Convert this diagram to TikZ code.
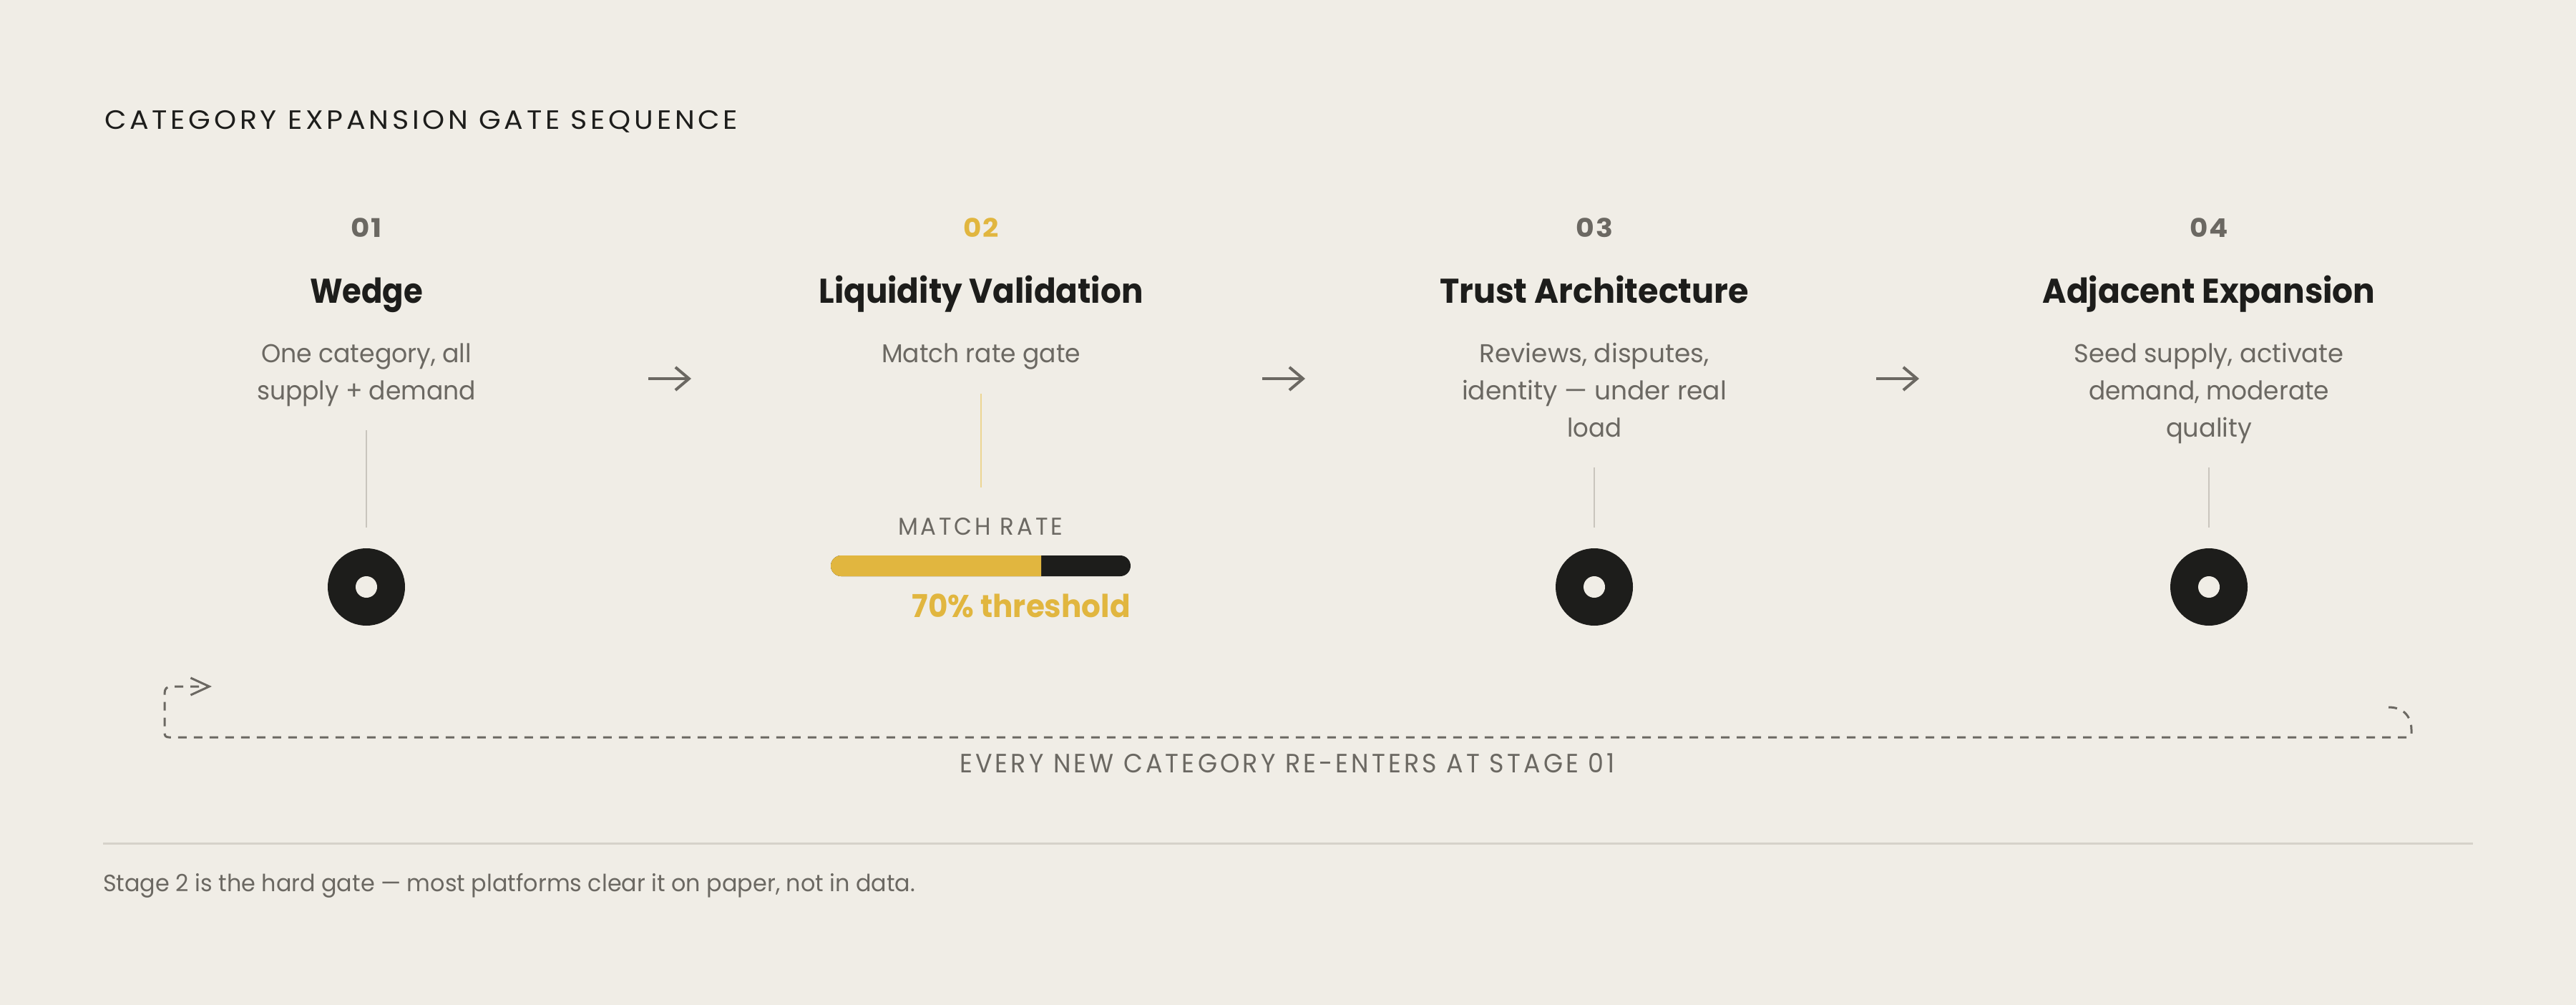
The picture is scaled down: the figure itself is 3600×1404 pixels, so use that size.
\documentclass[tikz,border=0pt]{standalone}
\usepackage{fontspec}
\usepackage{graphicx}
\setmainfont{Poppins}
\newfontfamily\poptr{Poppins}[LetterSpace=12]
\newfontfamily\popnum{Poppins}[LetterSpace=6]
\usetikzlibrary{arrows.meta}
\definecolor{bg}{HTML}{F0EDE6}
\definecolor{ink}{HTML}{1D1D1B}
\definecolor{mute}{HTML}{6B6862}
\definecolor{gold}{HTML}{E1B63F}
\definecolor{goldl}{HTML}{ECD592}
\definecolor{rulec}{HTML}{D6D2CA}
\definecolor{stem}{HTML}{C9C5BD}
\newlength\fitlen
\newcommand\fitto[2]{\settowidth\fitlen{#2}\pgfmathsetmacro\fitf{#1/\fitlen}\scalebox{\fitf}[1]{#2}}
\tikzset{
  eyebrow/.style={font=\poptr\fontsize{37}{44}\selectfont, text=ink, inner sep=0pt, anchor=base west},
  numtxt/.style={font=\popnum\bfseries\fontsize{36}{40}\selectfont, text=mute, inner sep=0pt, anchor=base},
  ttl/.style={font=\bfseries\fontsize{48}{56}\selectfont, text=ink, inner sep=0pt, anchor=base},
  desc/.style={font=\fontsize{36}{52}\selectfont, text=mute, inner sep=0pt, anchor=north, align=center},
  circ/.style={circle, fill=ink, minimum size=108pt, inner sep=0pt},
  hole/.style={circle, fill=bg, minimum size=30pt, inner sep=0pt},
  stemline/.style={draw=stem, line width=2pt},
  flow/.style={draw=mute, line width=4pt, -{Straight Barb[length=19pt,width=32pt]}},
  capsmute/.style={font=\poptr\fontsize{37}{44}\selectfont, text=mute, inner sep=0pt},
  loopline/.style={draw=mute, line width=3pt, dash pattern=on 12pt off 10pt, -{Straight Barb[length=26pt,width=24pt]}},
}
\begin{document}
\begin{tikzpicture}[x=1pt,y=-1pt]
\useasboundingbox (0,0) rectangle (3600,1404);
\fill[bg] (0,0) rectangle (3600,1404);

% eyebrow
\node[eyebrow] (eyebrow) at (146,181) {\fitto{885}{CATEGORY EXPANSION GATE SEQUENCE}};

% stage numbers
\node[numtxt] (n1) at (512,332) {\fitto{44}{01}};
\node[numtxt, text=gold] (n2) at (1371,332) {\fitto{50}{02}};
\node[numtxt] (n3) at (2228,332) {\fitto{52}{03}};
\node[numtxt] (n4) at (3087,332) {\fitto{54}{04}};

% stage titles
\node[ttl] (t1) at (512,423) {\fitto{158}{Wedge}};
\node[ttl] (t2) at (1371,423) {\fitto{453}{Liquidity Validation}};
\node[ttl] (t3) at (2228,423) {\fitto{432}{Trust Architecture}};
\node[ttl] (t4) at (3087,423) {\fitto{465}{Adjacent Expansion}};

% descriptions
\node[desc] (d1) at (512,466) {\rule{0pt}{40pt}\fitto{294}{One category, all}\\\fitto{306}{supply + demand}};
\node[desc] (d2) at (1371,466) {\rule{0pt}{40pt}\fitto{278}{Match rate gate}};
\node[desc] (d3) at (2228,466) {\rule{0pt}{40pt}\fitto{321}{Reviews, disputes,}\\\fitto{370}{identity — under real}\\\fitto{76}{load}};
\node[desc] (d4) at (3087,466) {\rule{0pt}{40pt}\fitto{377}{Seed supply, activate}\\\fitto{336}{demand, moderate}\\\fitto{120}{quality}};

% arrows between stages
\coordinate (a1s) at (906,529); \coordinate (a1e) at (966,529);
\coordinate (a2s) at (1764,529); \coordinate (a2e) at (1824,529);
\coordinate (a3s) at (2622,529); \coordinate (a3e) at (2682,529);
\draw[flow] (a1s) -- (a1e);
\draw[flow] (a2s) -- (a2e);
\draw[flow] (a3s) -- (a3e);

% stems
\coordinate (s1t) at (512,601); \coordinate (s1b) at (512,737);
\coordinate (s2t) at (1371,550); \coordinate (s2b) at (1371,681);
\coordinate (s3t) at (2228,653); \coordinate (s3b) at (2228,737);
\coordinate (s4t) at (3087,653); \coordinate (s4b) at (3087,737);
\draw[stemline] (s1t) -- (s1b);
\draw[stemline, draw=goldl] (s2t) -- (s2b);
\draw[stemline] (s3t) -- (s3b);
\draw[stemline] (s4t) -- (s4b);

% circles
\node[circ] (c1) at (512,820) {};
\node[hole] (h1) at (c1.center) {};
\node[circ] (c3) at (2228,820) {};
\node[hole] (h3) at (c3.center) {};
\node[circ] (c4) at (3087,820) {};
\node[hole] (h4) at (c4.center) {};

% match rate gauge
\node[capsmute, font=\poptr\fontsize{34}{40}\selectfont, anchor=base] (mr) at (1370,747) {\fitto{230}{MATCH RATE}};
\fill[ink, rounded corners=14.5pt] (1161,776) rectangle (1580,805);
\begin{scope}
\clip (1150,770) rectangle (1455,812);
\fill[gold, rounded corners=14.5pt] (1161,776) rectangle (1580,805);
\end{scope}
\node[font=\bfseries\fontsize{44}{50}\selectfont, text=gold, inner sep=0pt, anchor=base east] (thr) at (1580,862) {\fitto{305}{70\% threshold}};

% re-entry loop
\coordinate (lstart) at (3338,988);
\coordinate (lend) at (296,959);
\draw[loopline] (lstart) .. controls (3358,988) and (3370,1000) .. (3370,1020) -- (3370,1024) .. controls (3370,1028) and (3368,1030) .. (3364,1030) -- (236,1030) .. controls (232,1030) and (230,1028) .. (230,1024) -- (230,969) .. controls (230,962) and (233,959) .. (240,959) -- (lend);
\node[capsmute, anchor=base] (loopl) at (1799,1079) {\fitto{916}{EVERY NEW CATEGORY RE-ENTERS AT STAGE 01}};

% rule and footer
\coordinate (r1) at (144,1178); \coordinate (r2) at (3456,1178);
\draw[rulec, line width=3pt] (r1) -- (r2);
\node[font=\fontsize{33}{40}\selectfont, text=mute, inner sep=0pt, anchor=base west] (foot) at (144,1245) {\fitto{1135}{Stage 2 is the hard gate — most platforms clear it on paper, not in data.}};
\end{tikzpicture}
\end{document}
